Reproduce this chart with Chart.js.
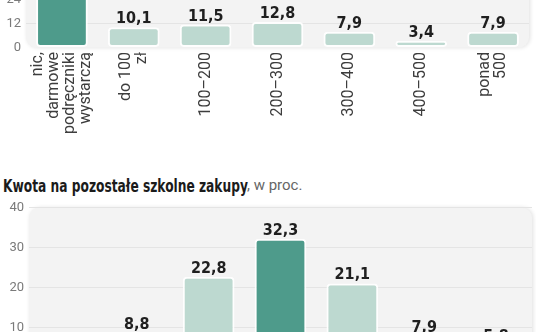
<!DOCTYPE html>
<html>
<head>
<meta charset="utf-8">
<script src="https://cdn.jsdelivr.net/npm/chart.js@4.4.1/dist/chart.umd.min.js"></script>
<style>
    html, body { margin: 0; padding: 0; background: #fff; }
    body { width: 536px; height: 332px; overflow: hidden; position: relative; }
    #top-wrap { position: absolute; left: 0; top: -80px; width: 536px; height: 220px; }
    #bottom-wrap { position: absolute; left: 0; top: 195px; width: 536px; height: 200px; }
    .title {
        position: absolute; left: 3px; top: 176px; white-space: nowrap; line-height: 20px;
        font: bold 17px "DejaVu Sans Condensed", sans-serif; color: #1b1b1b;
        transform: scaleX(0.8); transform-origin: 0 0;
    }
    .unit {
        position: absolute; left: 247px; top: 176px; white-space: nowrap; line-height: 20px;
        font: 15px Roboto, sans-serif; color: #666;
    }
</style>
</head>
<body>
<div id="top-wrap"><canvas id="books-chart"></canvas></div>
<div class="title">Kwota na pozostałe szkolne zakupy</div>
<div class="unit">, w proc.</div>
<div id="bottom-wrap"><canvas id="other-chart"></canvas></div>

<script>
// Chart data
const categories = [
    ['nic,', 'darmowe', 'podręczniki', 'wystarczą'],
    ['do 100', 'zł'],
    ['100–200'],
    ['200–300'],
    ['300–400'],
    ['400–500'],
    ['ponad', '500']
];
const booksValues = [46.4, 10.1, 11.5, 12.8, 7.9, 3.4, 7.9];
const otherValues = [1.3, 8.8, 22.8, 32.3, 21.1, 7.9, 5.8];
const booksTicks = [0, 12, 24, 36, 48];
const otherTicks = [0, 10, 20, 30, 40];

const DARK = '#4e9b8b';
const LIGHT = '#bdd9d0';

function barColors(values, highlight) {
    return values.map((v, i) => i === highlight ? DARK : LIGHT);
}

function formatValue(v) {
    return v.toFixed(1).replace('.', ',');
}

// grey rounded panel behind the plot area
const plotBackground = {
    id: 'plotBackground',
    beforeDraw(chart) {
        const { ctx, chartArea: a } = chart;
        ctx.save();
        ctx.shadowColor = 'rgba(0,0,0,0.13)';
        ctx.shadowBlur = 4;
        ctx.shadowOffsetX = 1;
        ctx.fillStyle = '#f3f3f3';
        ctx.beginPath();
        ctx.roundRect(a.left, a.top, a.right - a.left, a.bottom - a.top, 10);
        ctx.fill();
        ctx.restore();
    }
};

// numbers above the bars
const valueLabels = {
    id: 'valueLabels',
    afterDatasetsDraw(chart) {
        const { ctx } = chart;
        const meta = chart.getDatasetMeta(0);
        const data = chart.data.datasets[0].data;
        ctx.save();
        ctx.font = 'bold 16px "DejaVu Sans Condensed", sans-serif';
        ctx.fillStyle = '#1f1f1f';
        ctx.textAlign = 'center';
        ctx.textBaseline = 'alphabetic';
        meta.data.forEach((bar, i) => {
            ctx.fillText(formatValue(data[i]), bar.x, bar.y - 4);
        });
        ctx.restore();
    }
};

// vertical category labels, each block centred under its bar
const verticalLabels = {
    id: 'verticalLabels',
    afterDraw(chart) {
        const { ctx, chartArea } = chart;
        const xScale = chart.scales.x;
        const lh = 16;
        ctx.save();
        ctx.font = '16px Roboto, sans-serif';
        ctx.fillStyle = '#3d3d3d';
        ctx.textAlign = 'right';
        ctx.textBaseline = 'middle';
        chart.data.labels.forEach((lines, i) => {
            const cx = xScale.getPixelForTick(i);
            lines.forEach((line, j) => {
                const lx = cx - (lines.length - 1) * lh / 2 + j * lh;
                ctx.save();
                ctx.translate(lx, chartArea.bottom + 4.5);
                ctx.rotate(-Math.PI / 2);
                ctx.fillText(line, 0, 0);
                ctx.restore();
            });
        });
        ctx.restore();
    }
};

function makeChart(id, values, highlight, ticks, padding, axisWidth, withLabels) {
    const ctx = document.getElementById(id);
    return new Chart(ctx, {
        type: 'bar',
        data: {
            labels: categories,
            datasets: [{
                data: values,
                backgroundColor: barColors(values, highlight),
                borderColor: 'rgba(255,255,255,0.9)',
                borderWidth: 2,
                borderRadius: 4,
                borderSkipped: false,
                barPercentage: 0.72,
                categoryPercentage: 1
            }]
        },
        options: {
            responsive: true,
            maintainAspectRatio: false,
            animation: false,
            layout: { padding: padding },
            plugins: {
                legend: { display: false },
                tooltip: { enabled: false }
            },
            scales: {
                x: { display: false },
                y: {
                    min: ticks[0],
                    max: ticks[ticks.length - 1],
                    afterBuildTicks: s => { s.ticks = ticks.map(v => ({ value: v })); },
                    afterFit: s => { s.width = axisWidth; },
                    border: { display: false },
                    grid: {
                        drawTicks: false,
                        color: c => c.tick && c.tick.value === 0 ? 'rgba(0,0,0,0)' : '#e4e4e4'
                    },
                    ticks: {
                        padding: 5,
                        color: '#7a7a7a',
                        font: { family: 'Roboto', size: 13 }
                    }
                }
            }
        },
        plugins: withLabels ? [plotBackground, valueLabels, verticalLabels] : [plotBackground, valueLabels]
    });
}

makeChart('books-chart', booksValues, 0, booksTicks,
    { left: 0, right: 7, top: 31.5, bottom: 92.5 }, 26, true);
makeChart('other-chart', otherValues, 3, otherTicks,
    { left: 0, right: 4, top: 10, bottom: 27 }, 29, false);
</script>
</body>
</html>
